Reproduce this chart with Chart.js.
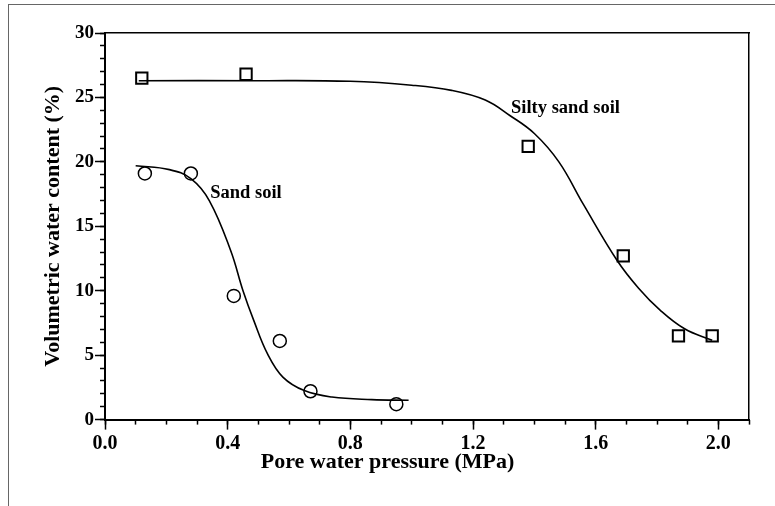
<!DOCTYPE html>
<html><head><meta charset="utf-8">
<script src="https://cdn.jsdelivr.net/npm/chart.js@4/dist/chart.umd.min.js"></script>
<style>
html,body{margin:0;padding:0;background:#fff;}
#wrap{position:relative;width:775px;height:506px;overflow:hidden;}
#frame{position:absolute;left:8px;top:4px;width:800px;height:540px;border-left:1px solid #666;border-top:1px solid #666;}
canvas{position:absolute;left:0;top:0;}
</style></head><body>
<div id="wrap"><div id="frame"></div><canvas id="c" width="775" height="506"></canvas></div>
<script>
// measured points
const sandX = [0.13, 0.28, 0.42, 0.57, 0.67, 0.95];
const sandY = [19.1, 19.1, 9.6, 6.1, 2.2, 1.2];
const siltyX = [0.12, 0.46, 1.38, 1.69, 1.87, 1.98];
const siltyY = [26.5, 26.8, 21.2, 12.7, 6.5, 6.5];
// fitted curves
const sandFitX = [0.10, 0.21, 0.28, 0.34, 0.41, 0.45, 0.485, 0.53, 0.58, 0.65, 0.74, 0.87, 0.99];
const sandFitY = [19.7, 19.4, 18.7, 17.0, 13.1, 10.0, 7.7, 5.1, 3.3, 2.25, 1.75, 1.55, 1.5];
const siltyFitX = [0.11, 0.50, 0.80, 1.00, 1.13, 1.24, 1.32, 1.40, 1.48, 1.56, 1.67, 1.74, 1.81, 1.89, 1.98];
const siltyFitY = [26.3, 26.3, 26.25, 25.95, 25.55, 24.8, 23.6, 22.2, 20.0, 16.7, 12.35, 10.2, 8.5, 7.05, 6.15];
// tick labels
const xTickLabels = ['0.0', '0.4', '0.8', '1.2', '1.6', '2.0'];
const yTickLabels = ['0', '5', '10', '15', '20', '25', '30'];
// curve labels
const noteText = ['Sand soil', 'Silty sand soil'];
const noteX = [0.343, 1.324];
const noteY = [17.55, 24.15];

const FONT = '"Liberation Serif", "Times New Roman", serif';
const pts = (xs, ys) => xs.map((x, i) => ({x: x, y: ys[i]}));
const isXMajor = v => xTickLabels.indexOf(v.toFixed(1)) >= 0;
const isYMajor = v => yTickLabels.indexOf(String(Math.round(v))) >= 0 && Math.abs(v - Math.round(v)) < 1e-6;

const notesPlugin = {
  id: 'notes',
  afterDatasetsDraw(chart) {
    const ctx = chart.ctx, xs = chart.scales.x, ys = chart.scales.y;
    ctx.save();
    ctx.font = 'bold 18.5px ' + FONT;
    ctx.fillStyle = '#000';
    ctx.textAlign = 'left';
    ctx.textBaseline = 'middle';
    noteText.forEach((t, i) => ctx.fillText(t, xs.getPixelForValue(noteX[i]), ys.getPixelForValue(noteY[i])));
    ctx.restore();
  }
};

new Chart(document.getElementById('c'), {
  type: 'scatter',
  data: {
    datasets: [
      {label: 'Sand soil fit', data: pts(sandFitX, sandFitY), showLine: true, pointRadius: 0,
       borderColor: '#000', borderWidth: 1.6, tension: 0.4, fill: false},
      {label: 'Silty sand soil fit', data: pts(siltyFitX, siltyFitY), showLine: true, pointRadius: 0,
       borderColor: '#000', borderWidth: 1.6, tension: 0.4, fill: false},
      {label: 'Sand soil', data: pts(sandX, sandY), showLine: false, pointStyle: 'circle', pointRadius: 6.5,
       pointBorderWidth: 1.5, pointBorderColor: '#000', pointBackgroundColor: 'rgba(0,0,0,0)'},
      {label: 'Silty sand soil', data: pts(siltyX, siltyY), showLine: false, pointStyle: 'rect', pointRadius: 8,
       pointBorderWidth: 2, pointBorderColor: '#000', pointBackgroundColor: 'rgba(0,0,0,0)'}
    ]
  },
  options: {
    responsive: false,
    animation: false,
    devicePixelRatio: 1,
    layout: {padding: 0},
    plugins: {
      legend: {display: false},
      tooltip: {enabled: false},
      title: {
        display: true, text: 'Pore water pressure (MPa)', position: 'bottom', color: '#000',
        font: {family: FONT, size: 22, weight: 'bold'}, padding: {top: 0, bottom: 30}
      }
    },
    scales: {
      x: {
        type: 'linear', position: 'bottom', min: 0, max: 2.1, weight: 1,
        afterFit: s => { s.height = 30; },
        ticks: {stepSize: 0.1, autoSkip: false, maxRotation: 0, padding: 2, color: '#000',
          font: {family: FONT, size: 20, weight: 'bold'},
          callback: v => isXMajor(v) ? v.toFixed(1) : ''},
        grid: {drawOnChartArea: false, tickLength: 10, tickWidth: 1.5,
          tickColor: c => (c.tick && isXMajor(c.tick.value)) ? '#000' : 'rgba(0,0,0,0)'},
        border: {color: '#000', width: 2}
      },
      xm: {
        type: 'linear', position: 'bottom', min: 0, max: 2.1, weight: 0,
        afterFit: s => { s.height = 0; },
        ticks: {display: false, stepSize: 0.1, autoSkip: false},
        grid: {drawOnChartArea: false, tickLength: 5, tickWidth: 1.5, tickColor: '#000'},
        border: {display: false}
      },
      xt: {
        type: 'linear', position: 'top', min: 0, max: 2.1,
        afterFit: s => { s.height = 33; },
        ticks: {display: false}, grid: {display: false},
        border: {display: true, color: '#000', width: 1.5}
      },
      y: {
        type: 'linear', position: 'left', min: 0, max: 30, weight: 1,
        afterFit: s => { s.width = 105; },
        ticks: {stepSize: 1, autoSkip: false, padding: 1, color: '#000',
          font: {family: FONT, size: 19, weight: 'bold'},
          callback: v => isYMajor(v) ? String(Math.round(v)) : ''},
        grid: {drawOnChartArea: false, tickLength: 10, tickWidth: 1.5,
          tickColor: c => (c.tick && isYMajor(c.tick.value)) ? '#000' : 'rgba(0,0,0,0)'},
        border: {color: '#000', width: 2},
        title: {display: true, text: 'Volumetric water content (%)', color: '#000',
          font: {family: FONT, size: 22, weight: 'bold'}, padding: {top: 40, bottom: 0}}
      },
      ym: {
        type: 'linear', position: 'left', min: 0, max: 30, weight: 0,
        afterFit: s => { s.width = 0; },
        ticks: {display: false, stepSize: 1, autoSkip: false},
        grid: {drawOnChartArea: false, tickLength: 5, tickWidth: 1.5, tickColor: '#000'},
        border: {display: false}
      },
      yr: {
        type: 'linear', position: 'right', min: 0, max: 30,
        afterFit: s => { s.width = 26; },
        ticks: {display: false}, grid: {display: false},
        border: {display: true, color: '#000', width: 1.5}
      }
    }
  },
  plugins: [notesPlugin]
});
</script>
</body></html>
